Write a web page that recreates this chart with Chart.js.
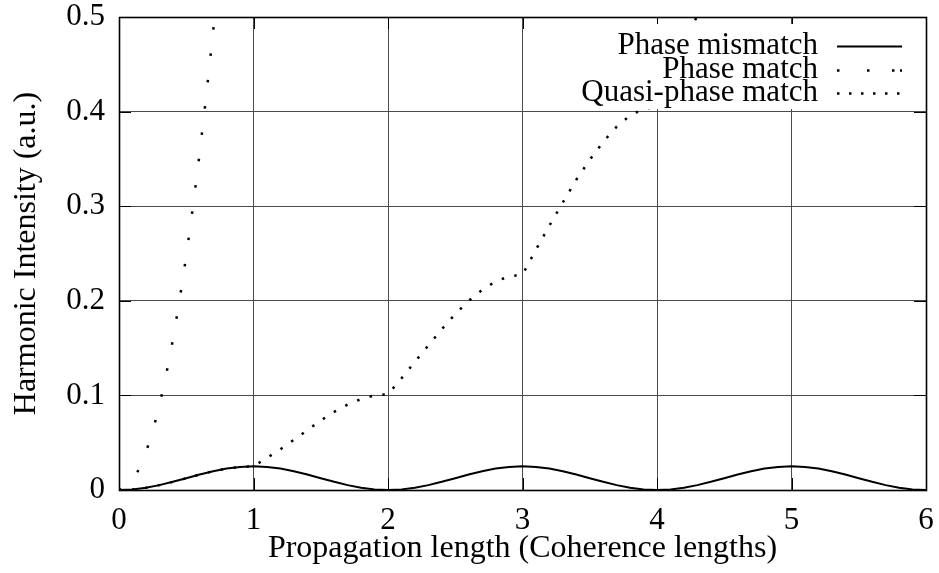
<!DOCTYPE html>
<html>
<head>
<meta charset="utf-8">
<title>Harmonic intensity vs propagation length</title>
<script src="https://cdn.jsdelivr.net/npm/chart.js@4.4.1/dist/chart.umd.min.js"></script>
<style>
  html, body { margin: 0; padding: 0; background: #ffffff; }
  #wrap { width: 939px; height: 573px; }
</style>
</head>
<body>
<div id="wrap"><canvas id="chart" width="939" height="573"></canvas></div>
<script>
// ---- data ----
const seriesNames = ['Phase mismatch', 'Phase match', 'Quasi-phase match'];
const xTitle = 'Propagation length (Coherence lengths)';
const yTitle = 'Harmonic Intensity (a.u.)';

const xTicks = [0, 1, 2, 3, 4, 5, 6];
const xTickLabels = ['0', '1', '2', '3', '4', '5', '6'];
const yTicks = [0, 0.1, 0.2, 0.3, 0.4, 0.5];
const yTickLabels = ['0', '0.1', '0.2', '0.3', '0.4', '0.5'];

// propagation positions (coherence lengths)
const gridX = [
  0.0, 0.1, 0.2, 0.3, 0.4, 0.5, 0.6, 0.7, 0.8, 0.9,
  1.0, 1.1, 1.2, 1.3, 1.4, 1.5, 1.6, 1.7, 1.8, 1.9,
  2.0, 2.1, 2.2, 2.3, 2.4, 2.5, 2.6, 2.7, 2.8, 2.9,
  3.0, 3.1, 3.2, 3.3, 3.4, 3.5, 3.6, 3.7, 3.8, 3.9,
  4.0, 4.1, 4.2, 4.3, 4.4, 4.5, 4.6, 4.7, 4.8, 4.9,
  5.0, 5.1, 5.2, 5.3, 5.4, 5.5, 5.6, 5.7, 5.8, 5.9,
  6.0
];

// phase mismatch: intensity oscillates, never exceeding one coherence length's worth
const mismatch = [
  0, 0.00061, 0.00239, 0.00515, 0.00864, 0.0125, 0.01636, 0.01985, 0.02261, 0.02439,
  0.025, 0.02439, 0.02261, 0.01985, 0.01636, 0.0125, 0.00864, 0.00515, 0.00239, 0.00061,
  0, 0.00061, 0.00239, 0.00515, 0.00864, 0.0125, 0.01636, 0.01985, 0.02261, 0.02439,
  0.025, 0.02439, 0.02261, 0.01985, 0.01636, 0.0125, 0.00864, 0.00515, 0.00239, 0.00061,
  0, 0.00061, 0.00239, 0.00515, 0.00864, 0.0125, 0.01636, 0.01985, 0.02261, 0.02439,
  0.025, 0.02439, 0.02261, 0.01985, 0.01636, 0.0125, 0.00864, 0.00515, 0.00239, 0.00061,
  0
];

// quasi-phase match: same as mismatch for the first coherence length, then keeps growing
const quasiX = [
  0.0, 0.1, 0.2, 0.3, 0.4, 0.5, 0.6, 0.7, 0.8, 0.9,
  1.0, 1.1, 1.2, 1.3, 1.4, 1.5, 1.6, 1.7, 1.8, 1.9,
  2.0, 2.1, 2.2, 2.3, 2.4, 2.5, 2.6, 2.7, 2.8, 2.9,
  3.0, 3.1, 3.2, 3.3, 3.4, 3.5, 3.6, 3.7, 3.8, 3.9,
  4.0, 4.1, 4.2, 4.3, 4.4
];
const quasi = [
  0, 0.00061, 0.00239, 0.00515, 0.00864, 0.0125, 0.01636, 0.01985, 0.02261, 0.02439,
  0.025, 0.034, 0.043, 0.053, 0.0632, 0.0735, 0.0826, 0.0903, 0.0961, 0.1001,
  0.1013, 0.118, 0.1355, 0.1528, 0.170, 0.186, 0.200, 0.2115, 0.2205, 0.2258,
  0.2277, 0.254, 0.2795, 0.304, 0.328, 0.349, 0.368, 0.384, 0.396, 0.403,
  0.405, 0.437, 0.470, 0.502, 0.533
];

// perfect phase match: quadratic growth, leaves the plot before x = 0.75
const matchX = [0, 0.05, 0.1, 0.15, 0.2, 0.25, 0.3, 0.35, 0.4, 0.45, 0.5, 0.55, 0.6, 0.65, 0.7, 0.75];
const match = [0, 0.0025, 0.0099, 0.0223, 0.0396, 0.0619, 0.0891, 0.1213, 0.1584, 0.2005,
               0.2475, 0.2995, 0.3564, 0.4183, 0.4851, 0.5569];

// ---- styling ----
const FONT = "'Liberation Serif', 'Times New Roman', serif";
const FONT_SIZE = 31;
const TITLE_SIZE = 32;
const GRID_COLOR = '#4a4a4a';

const pairs = (xs, ys) => xs.map((x, i) => ({ x: x, y: ys[i] }));

// legend samples, drawn like the plotted lines
const legendStyles = [
  { dash: [], width: 2 },
  { dash: [2.5, 27.5, 2.5, 22.5, 2.5, 5.5], width: 2.5 },
  { dash: [2.5, 9.5], width: 2.5 }
];

const framePlugin = {
  id: 'frameAndKey',
  beforeDatasetsDraw(chart) {
    const { ctx, chartArea: a, scales } = chart;
    ctx.save();
    ctx.strokeStyle = '#000';
    ctx.lineWidth = 1;
    const len = 12;
    xTicks.forEach(v => {
      const px = Math.round(scales.x.getPixelForValue(v)) + 0.5;
      ctx.beginPath();
      ctx.moveTo(px, a.bottom); ctx.lineTo(px, a.bottom - len);
      ctx.moveTo(px, a.top); ctx.lineTo(px, a.top + len);
      ctx.stroke();
    });
    yTicks.forEach(v => {
      const py = Math.round(scales.y.getPixelForValue(v)) + 0.5;
      ctx.beginPath();
      ctx.moveTo(a.left, py); ctx.lineTo(a.left + len, py);
      ctx.moveTo(a.right, py); ctx.lineTo(a.right - len, py);
      ctx.stroke();
    });
    ctx.restore();
  },
  afterDatasetsDraw(chart) {
    const { ctx, chartArea: a } = chart;
    ctx.save();
    // key background
    ctx.fillStyle = '#fff';
    ctx.fillRect(570, a.top + 7, a.right - 570 - 1, 85);

    // key entries
    ctx.font = FONT_SIZE + 'px ' + FONT;
    ctx.fillStyle = '#000';
    ctx.textAlign = 'right';
    ctx.textBaseline = 'alphabetic';
    const textRight = 818;
    const baselines = [54, 78, 101];
    seriesNames.forEach((name, i) => {
      ctx.fillText(name, textRight, baselines[i]);
      const st = legendStyles[i];
      const y = baselines[i] - 7.5;
      ctx.beginPath();
      ctx.setLineDash(st.dash);
      ctx.lineCap = 'butt';
      ctx.lineWidth = st.width;
      ctx.strokeStyle = '#000';
      ctx.moveTo(837, y);
      ctx.lineTo(902, y);
      ctx.stroke();
    });
    ctx.setLineDash([]);

    // plot border
    ctx.strokeStyle = '#000';
    ctx.lineWidth = 1.6;
    ctx.strokeRect(Math.round(a.left) + 0.5, Math.round(a.top) + 0.5,
                   Math.round(a.right - a.left), Math.round(a.bottom - a.top));
    ctx.restore();
  }
};

Chart.defaults.font.family = FONT;
Chart.defaults.font.size = FONT_SIZE;
Chart.defaults.color = '#000';

new Chart(document.getElementById('chart'), {
  type: 'scatter',
  data: {
    datasets: [
      {
        label: seriesNames[0],
        data: pairs(gridX, mismatch),
        showLine: true,
        borderColor: '#000',
        borderWidth: 2,
        pointRadius: 0,
        tension: 0,
        order: 3
      },
      {
        label: seriesNames[1],
        data: pairs(matchX, match),
        showLine: true,
        borderColor: '#000',
        borderWidth: 2.5,
        borderDash: [2.5, 24],
        borderCapStyle: 'butt',
        pointRadius: 0,
        tension: 0,
        order: 2
      },
      {
        label: seriesNames[2],
        data: pairs(quasiX, quasi),
        showLine: true,
        borderColor: '#000',
        borderWidth: 2.5,
        borderDash: [2.5, 10.5],
        borderCapStyle: 'butt',
        pointRadius: 0,
        tension: 0,
        order: 1
      }
    ]
  },
  options: {
    responsive: false,
    maintainAspectRatio: false,
    animation: false,
    devicePixelRatio: 1,
    layout: { padding: { top: 17, right: 13, left: 0, bottom: 0 } },
    plugins: {
      legend: { display: false },
      title: { display: false },
      tooltip: { enabled: false }
    },
    scales: {
      x: {
        type: 'linear',
        min: 0,
        max: 6,
        afterBuildTicks: s => { s.ticks = xTicks.map(v => ({ value: v })); },
        afterFit: s => { s.height = 83; s.paddingLeft = 0; s.paddingRight = 0; },
        ticks: {
          padding: 12,
          maxRotation: 0,
          autoSkip: false,
          callback: (v, i) => xTickLabels[i]
        },
        grid: { color: GRID_COLOR, lineWidth: 1, drawTicks: false },
        border: { display: false },
        title: {
          display: true,
          text: xTitle,
          padding: { top: 0, bottom: 5 },
          font: { family: FONT, size: TITLE_SIZE }
        }
      },
      y: {
        type: 'linear',
        min: 0,
        max: 0.5,
        afterBuildTicks: s => { s.ticks = yTicks.map(v => ({ value: v })); },
        afterFit: s => { s.width = 119; s.paddingTop = 0; s.paddingBottom = 0; },
        ticks: {
          padding: 14,
          autoSkip: false,
          callback: (v, i) => yTickLabels[i]
        },
        grid: { color: GRID_COLOR, lineWidth: 1, drawTicks: false },
        border: { display: false },
        title: {
          display: true,
          text: yTitle,
          padding: { top: 7, bottom: 0 },
          font: { family: FONT, size: TITLE_SIZE }
        }
      }
    }
  },
  plugins: [framePlugin]
});
</script>
</body>
</html>
